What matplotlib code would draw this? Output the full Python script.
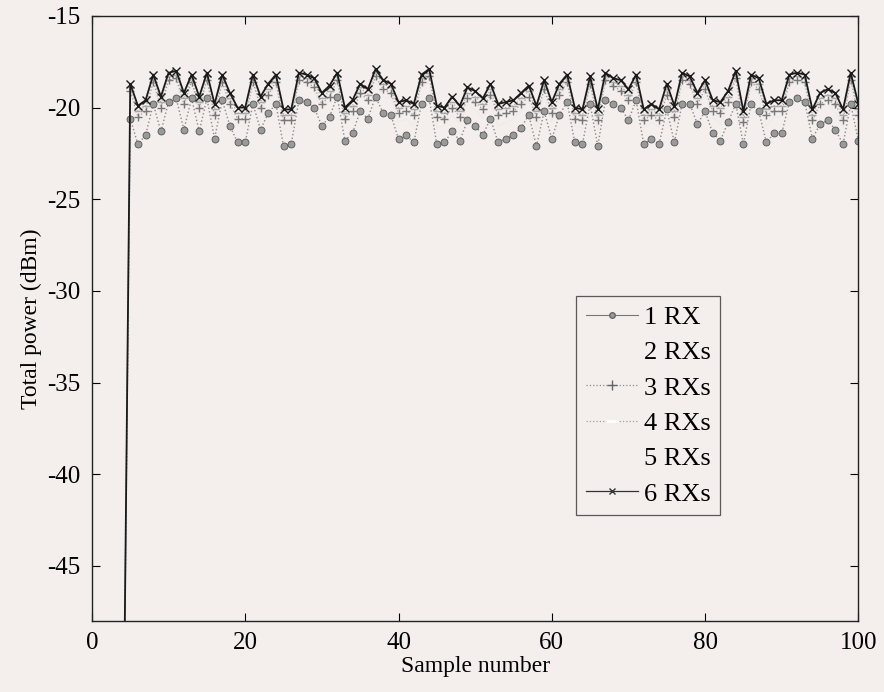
import numpy as np
import matplotlib
matplotlib.use('Agg')
import matplotlib.pyplot as plt
from matplotlib.lines import Line2D

plt.rcParams['font.family'] = ['Liberation Serif', 'DejaVu Serif']
plt.rcParams['axes.unicode_minus'] = False

# samples 1-4 are below the noise floor, then readings from sample 5 to 100
samples = np.arange(1, 101)
lead = [-60.0, -60.0, -60.0, -60.0]

rx1 = lead + [
    -20.6, -22.0, -21.5, -19.8, -21.3, -19.7, -19.5, -21.2, -19.5, -21.3,
    -19.5, -21.7, -19.6, -21.0, -21.9, -21.9, -19.8, -21.2, -20.3, -19.8,
    -22.1, -22.0, -19.6, -19.7, -20.0, -21.0, -20.5, -19.4, -21.8, -21.4,
    -20.2, -20.6, -19.4, -20.3, -20.4, -21.7, -21.5, -21.9, -19.8, -19.5,
    -22.0, -21.9, -21.3, -21.8, -20.7, -21.0, -21.5, -20.6, -21.9, -21.7,
    -21.5, -21.1, -20.4, -22.1, -20.2, -21.7, -20.4, -19.7, -21.9, -22.0,
    -19.8, -22.1, -19.6, -19.8, -20.0, -20.7, -19.6, -22.0, -21.7, -22.0,
    -20.1, -21.9, -19.8, -19.8, -20.9, -20.2, -21.4, -21.8, -20.8, -19.8,
    -22.0, -19.8, -20.2, -21.9, -21.4, -21.4, -19.7, -19.5, -19.7, -21.7,
    -20.9, -20.7, -21.2, -22.0, -19.8, -21.8]

rx2 = lead + [
    -19.7, -21.1, -20.6, -18.9, -20.4, -18.8, -18.6, -20.3, -18.6, -20.4,
    -18.6, -20.8, -18.7, -20.1, -21.0, -21.0, -18.9, -20.3, -19.4, -18.9,
    -21.2, -21.1, -18.7, -18.8, -19.1, -20.1, -19.6, -18.5, -20.9, -20.5,
    -19.3, -19.7, -18.5, -19.4, -19.5, -20.8, -20.6, -21.0, -18.9, -18.6,
    -21.1, -21.0, -20.4, -20.9, -19.8, -20.1, -20.6, -19.7, -21.0, -20.8,
    -20.6, -20.2, -19.5, -21.2, -19.3, -20.8, -19.5, -18.8, -21.0, -21.1,
    -18.9, -21.2, -18.7, -18.9, -19.1, -19.8, -18.7, -21.1, -20.8, -21.1,
    -19.2, -21.0, -18.9, -18.9, -20.0, -19.3, -20.5, -20.9, -19.9, -18.9,
    -21.1, -18.9, -19.3, -21.0, -20.5, -20.5, -18.8, -18.6, -18.8, -20.8,
    -20.0, -19.8, -20.3, -21.1, -18.9, -20.9]

rx3 = lead + [
    -19.1, -20.5, -20.2, -18.6, -20.0, -18.5, -18.4, -19.8, -18.6, -20.0,
    -18.5, -20.4, -18.6, -19.8, -20.6, -20.6, -18.6, -20.0, -19.3, -18.6,
    -20.7, -20.7, -18.5, -18.6, -18.9, -19.8, -19.4, -18.5, -20.6, -20.2,
    -19.2, -19.6, -18.3, -19.0, -19.2, -20.3, -20.2, -20.4, -18.6, -18.3,
    -20.5, -20.6, -20.0, -20.5, -19.5, -19.7, -20.1, -19.3, -20.4, -20.3,
    -20.2, -19.8, -19.4, -20.5, -19.0, -20.3, -19.3, -18.6, -20.6, -20.7,
    -18.7, -20.7, -18.5, -18.8, -19.1, -19.6, -18.6, -20.7, -20.4, -20.7,
    -19.3, -20.5, -18.5, -18.7, -19.8, -19.0, -20.2, -20.3, -19.7, -18.4,
    -20.8, -18.6, -19.0, -20.4, -20.2, -20.2, -18.6, -18.5, -18.6, -20.7,
    -19.8, -19.6, -19.8, -20.7, -18.5, -20.4]

rx4 = lead + [
    -18.9, -20.2, -19.9, -18.4, -19.7, -18.3, -18.2, -19.5, -18.4, -19.7,
    -18.3, -20.1, -18.4, -19.5, -20.3, -20.3, -18.4, -19.7, -19.0, -18.4,
    -20.4, -20.4, -18.3, -18.4, -18.6, -19.5, -19.1, -18.3, -20.3, -19.9,
    -18.9, -19.3, -18.1, -18.7, -18.9, -20.0, -19.9, -20.1, -18.4, -18.1,
    -20.2, -20.3, -19.7, -20.2, -19.2, -19.4, -19.8, -19.0, -20.1, -20.0,
    -19.9, -19.5, -19.1, -20.2, -18.7, -20.0, -19.0, -18.4, -20.3, -20.4,
    -18.5, -20.4, -18.3, -18.6, -18.8, -19.3, -18.4, -20.4, -20.1, -20.4,
    -19.0, -20.2, -18.3, -18.5, -19.5, -18.7, -19.9, -20.0, -19.4, -18.2,
    -20.5, -18.4, -18.7, -20.1, -19.9, -19.9, -18.4, -18.3, -18.4, -20.4,
    -19.5, -19.3, -19.5, -20.4, -18.3, -20.1]

rx5 = lead + [
    -18.8, -20.0, -19.7, -18.3, -19.5, -18.2, -18.1, -19.3, -18.3, -19.5,
    -18.2, -19.9, -18.3, -19.3, -20.1, -20.1, -18.3, -19.5, -18.8, -18.3,
    -20.2, -20.2, -18.2, -18.3, -18.5, -19.3, -18.9, -18.2, -20.1, -19.7,
    -18.8, -19.1, -18.0, -18.6, -18.8, -19.8, -19.7, -19.9, -18.3, -18.0,
    -20.0, -20.1, -19.5, -20.0, -19.0, -19.2, -19.6, -18.8, -19.9, -19.8,
    -19.7, -19.3, -18.9, -20.0, -18.6, -19.8, -18.8, -18.3, -20.1, -20.2,
    -18.4, -20.2, -18.2, -18.5, -18.6, -19.1, -18.3, -20.2, -19.9, -20.2,
    -18.8, -20.0, -18.2, -18.4, -19.3, -18.6, -19.7, -19.8, -19.2, -18.1,
    -20.3, -18.3, -18.5, -19.9, -19.7, -19.7, -18.3, -18.2, -18.3, -20.2,
    -19.3, -19.1, -19.3, -20.2, -18.2, -19.9]

rx6 = lead + [
    -18.7, -19.9, -19.6, -18.2, -19.4, -18.1, -18.0, -19.2, -18.2, -19.4,
    -18.1, -19.8, -18.2, -19.2, -20.0, -20.0, -18.2, -19.4, -18.7, -18.2,
    -20.1, -20.1, -18.1, -18.2, -18.4, -19.2, -18.8, -18.1, -20.0, -19.6,
    -18.7, -19.0, -17.9, -18.5, -18.7, -19.7, -19.6, -19.8, -18.2, -17.9,
    -19.9, -20.0, -19.4, -19.9, -18.9, -19.1, -19.5, -18.7, -19.8, -19.7,
    -19.6, -19.2, -18.8, -19.9, -18.5, -19.7, -18.7, -18.2, -20.0, -20.1,
    -18.3, -20.1, -18.1, -18.4, -18.5, -19.0, -18.2, -20.1, -19.8, -20.1,
    -18.7, -19.9, -18.1, -18.3, -19.2, -18.5, -19.6, -19.7, -19.1, -18.0,
    -20.2, -18.2, -18.4, -19.8, -19.6, -19.6, -18.2, -18.1, -18.2, -20.1,
    -19.2, -19.0, -19.2, -20.1, -18.1, -19.8]

labels = ['1 RX', '2 RXs', '3 RXs', '4 RXs', '5 RXs', '6 RXs']
bg = '#f4eeed'
faint = '#f0eaea'

fig = plt.figure(figsize=(8.84, 6.92), dpi=100, facecolor=bg)
ax = fig.add_axes([0.104, 0.1026, 0.867, 0.8744], facecolor=bg)

ax.plot(samples, rx1, color='#8a8a8a', linestyle=':', linewidth=1.0,
        marker='o', markersize=5, markerfacecolor='#9a9a9a',
        markeredgecolor='#555555', markeredgewidth=0.6)
ax.plot(samples, rx2, color=faint, linestyle='-', linewidth=0.8, zorder=1)
ax.plot(samples, rx3, color='#9c9c9c', linestyle=':', linewidth=0.9,
        marker='+', markersize=6, markeredgecolor='#777777')
ax.plot(samples, rx4, color='#b0b0b0', linestyle=':', linewidth=0.9,
        marker='_', markersize=6, markeredgecolor='#a8a8a8')
ax.plot(samples, rx5, color=faint, linestyle='-', linewidth=0.8, zorder=1)
ax.plot(samples, rx6, color='#1a1a1a', linestyle='-', linewidth=1.3,
        marker='x', markersize=5.5, markeredgewidth=1.0)

ax.set_xlim(0, 100)
ax.set_ylim(-48, -15)
ax.set_xticks(np.arange(0, 101, 20))
ax.set_yticks(np.arange(-45, -14, 5))
ax.tick_params(direction='in', length=6, width=0.8, labelsize=18,
               top=True, right=True, pad=8)
for s in ax.spines.values():
    s.set_linewidth(1.0)
    s.set_color('#222222')

ax.set_xlabel('Sample number', fontsize=17, labelpad=1)
ax.set_ylabel('Total power (dBm)', fontsize=17, labelpad=4)

# legend handles as they appear in the printed key
handles = [
    Line2D([], [], color='#777777', linestyle='-', linewidth=0.8,
           marker='o', markersize=4, markerfacecolor='#999999',
           markeredgecolor='#666666'),
    Line2D([], [], color=bg, linestyle='-'),
    Line2D([], [], color='#8c8c8c', linestyle=':', linewidth=0.9,
           marker='+', markersize=7, markeredgecolor='#666666'),
    Line2D([], [], color='#a0a0a0', linestyle=':', linewidth=0.9,
           marker='_', markersize=8, markeredgecolor='white',
           markeredgewidth=2),
    Line2D([], [], color=bg, linestyle='-'),
    Line2D([], [], color='#333333', linestyle='-', linewidth=0.9,
           marker='x', markersize=4),
]
leg = ax.legend(handles, labels, loc='upper left',
                bbox_to_anchor=(0.652, 0.572),
                bbox_transform=fig.transFigure, borderaxespad=0,
                fontsize=19, frameon=True, fancybox=False,
                handlelength=2.0, handletextpad=0.2, labelspacing=0.45,
                borderpad=0.35)
leg.get_frame().set_edgecolor('#333333')
leg.get_frame().set_facecolor(bg)
leg.get_frame().set_linewidth(0.9)

fig.savefig('out.png', dpi=100, facecolor=bg)
